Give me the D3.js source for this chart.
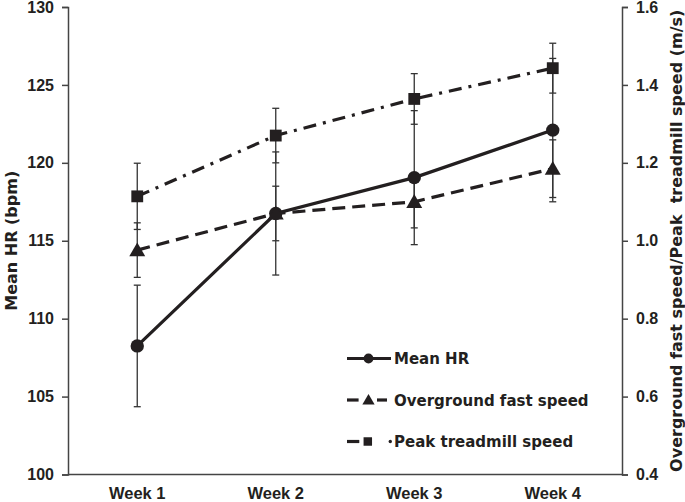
<!DOCTYPE html>
<html>
<head>
<meta charset="utf-8">
<script src="https://cdn.jsdelivr.net/npm/d3@7"></script>
<style>
  body { margin: 0; background: #fff; }
  text { font-family: "Liberation Sans", Arial, sans-serif; font-weight: bold; fill: #231f20; }
  text.wide { font-family: "DejaVu Sans", sans-serif; }
</style>
</head>
<body>
<div id="chart"></div>
<script>
const weeks = ["Week 1", "Week 2", "Week 3", "Week 4"];
const meanHR = [108.25, 116.75, 119.05, 122.1];
const meanHRErr = [3.9, 3.95, 4.3, 4.6];
const overground = [0.976, 1.07, 1.1, 1.185];
const overgroundErr = [0.07, 0.07, 0.067, 0.074];
const peakTreadmill = [1.114, 1.27, 1.364, 1.443];
const peakTreadmillErr = [0.085, 0.07, 0.065, 0.064];
const leftTicks = [100, 105, 110, 115, 120, 125, 130];
const rightTicks = [0.4, 0.6, 0.8, 1.0, 1.2, 1.4, 1.6];

const width = 685, height = 502;
const margin = { top: 7, right: 63, bottom: 27.5, left: 68 };
const ink = "#231f20";

const svg = d3.select("#chart").append("svg")
  .attr("width", width)
  .attr("height", height);

const x = d3.scalePoint()
  .domain(weeks)
  .range([margin.left, width - margin.right])
  .padding(0.5);

const yL = d3.scaleLinear().domain([100, 130]).range([height - margin.bottom, margin.top]);
const yR = d3.scaleLinear().domain([0.4, 1.6]).range([height - margin.bottom, margin.top]);

// axes
const leftAxis = d3.axisLeft(yL).tickValues(leftTicks).tickSize(6).tickPadding(8).tickFormat(d3.format("d"));
const rightAxis = d3.axisRight(yR).tickValues(rightTicks).tickSize(6).tickPadding(8).tickFormat(d3.format(".1f"));

function styleAxis(g) {
  g.select(".domain").attr("stroke", "#444").attr("stroke-width", 1.5);
  g.selectAll(".tick line").attr("stroke", "#444").attr("stroke-width", 1.5);
  g.selectAll(".tick text").attr("font-size", 16).attr("fill", ink)
    .style("font-family", "'Liberation Sans', Arial, sans-serif").style("font-weight", "bold");
}

svg.append("g").attr("transform", `translate(${margin.left},0)`).call(leftAxis).call(styleAxis);
svg.append("g").attr("transform", `translate(${width - margin.right},0)`).call(rightAxis).call(styleAxis);

svg.append("line")
  .attr("x1", margin.left).attr("x2", width - margin.right)
  .attr("y1", height - margin.bottom).attr("y2", height - margin.bottom)
  .attr("stroke", "#444").attr("stroke-width", 1.5);

svg.selectAll("text.week").data(weeks).enter().append("text")
  .attr("class", "week")
  .attr("x", d => x(d))
  .attr("y", 499)
  .attr("text-anchor", "middle")
  .attr("font-size", 16.5)
  .text(d => d);

// axis titles
const midY = (margin.top + height - margin.bottom) / 2;
svg.append("text")
  .attr("class", "wide")
  .attr("transform", `translate(17,${midY}) rotate(-90)`)
  .attr("text-anchor", "middle")
  .attr("font-size", 16)
  .text("Mean HR (bpm)");

svg.append("text")
  .attr("class", "wide")
  .attr("transform", `translate(682,${midY}) rotate(-90)`)
  .attr("text-anchor", "middle")
  .attr("font-size", 16)
  .style("white-space", "pre")
  .text("Overground fast speed/Peak  treadmill speed (m/s)");

const series = [
  { name: "Mean HR", values: meanHR, err: meanHRErr, y: yL, dash: null, marker: "circle" },
  { name: "Overground fast speed", values: overground, err: overgroundErr, y: yR, dash: "13,7", marker: "triangle" },
  { name: "Peak treadmill speed", values: peakTreadmill, err: peakTreadmillErr, y: yR, dash: "13,7,3,7", marker: "square" }
];

// error bars
series.forEach(s => {
  const g = svg.append("g");
  s.values.forEach((v, i) => {
    const cx = x(weeks[i]);
    const y1 = s.y(v - s.err[i]), y2 = s.y(v + s.err[i]);
    g.append("line").attr("x1", cx).attr("x2", cx).attr("y1", y1).attr("y2", y2)
      .attr("stroke", "#333").attr("stroke-width", 1.3);
    [y1, y2].forEach(yy => g.append("line")
      .attr("x1", cx - 3.5).attr("x2", cx + 3.5).attr("y1", yy).attr("y2", yy)
      .attr("stroke", "#333").attr("stroke-width", 1.3));
  });
});

const symbolType = { circle: d3.symbolCircle, triangle: d3.symbolTriangle, square: d3.symbolSquare };
const symbolSize = { circle: 140, triangle: 110, square: 140 };

// lines and markers
series.forEach(s => {
  const line = d3.line().x((d, i) => x(weeks[i])).y(d => s.y(d));
  svg.append("path")
    .datum(s.values)
    .attr("d", line)
    .attr("fill", "none")
    .attr("stroke", ink)
    .attr("stroke-width", 3.2)
    .attr("stroke-dasharray", s.dash);
  svg.selectAll(null).data(s.values).enter().append("path")
    .attr("d", d3.symbol().type(symbolType[s.marker]).size(symbolSize[s.marker]))
    .attr("transform", (d, i) => `translate(${x(weeks[i])},${s.y(d) + (s.marker === "triangle" ? 1.5 : 0)})`)
    .attr("fill", ink);
});

// legend
const legendX = 347, legendRows = [358.5, 400, 441.5];
const legendSize = { circle: 75, triangle: 65, square: 72 };
const legendMarkX = { circle: 21.5, triangle: 21.5, square: 20.8 };
series.forEach((s, i) => {
  const g = svg.append("g").attr("transform", `translate(${legendX},${legendRows[i]})`);
  const seg = (a, b) => g.append("line").attr("x1", a).attr("x2", b).attr("stroke", ink).attr("stroke-width", 3.2);
  if (s.marker === "circle") {
    seg(0, 44);
  } else if (s.marker === "triangle") {
    seg(0, 11.6);
    seg(30, 40);
  } else {
    seg(0, 12.3);
    g.append("circle").attr("cx", 43.3).attr("cy", 0).attr("r", 1.7).attr("fill", ink);
  }
  g.append("path")
    .attr("d", d3.symbol().type(symbolType[s.marker]).size(legendSize[s.marker]))
    .attr("transform", `translate(${legendMarkX[s.marker]},${s.marker === "triangle" ? 1 : 0})`)
    .attr("fill", ink);
  g.append("text")
    .attr("class", "wide")
    .attr("x", 47)
    .attr("y", 5.5)
    .attr("font-size", 15)
    .text(s.name);
});
</script>
</body>
</html>
